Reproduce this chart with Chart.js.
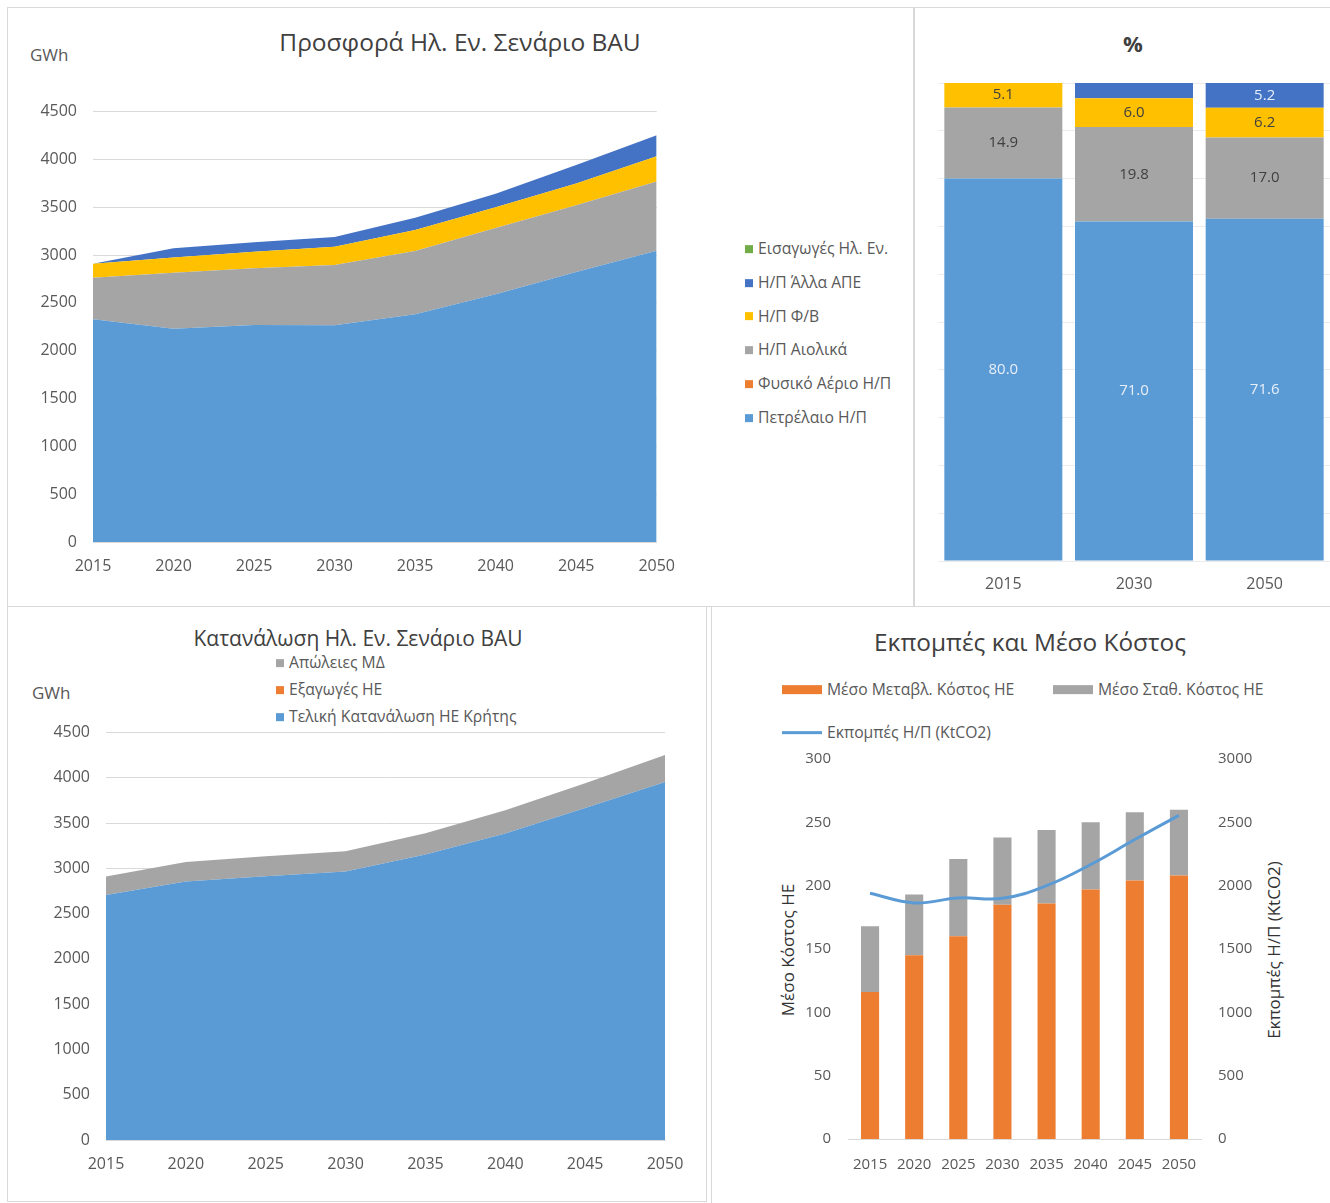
<!DOCTYPE html>
<html lang="el">
<head>
<meta charset="UTF-8" />
<title>Ηλεκτρική Ενέργεια Κρήτης – Σενάριο BAU</title>
<style>
  body {
    margin: 0;
    width: 1330px;
    height: 1203px;
    position: relative;
    overflow: hidden;
    background: #fff;
    font-family: "Open Sans", Arial, sans-serif;
    color: #595959;
  }
  .panel {
    position: absolute;
    border: 1px solid #d9d9d9;
    box-sizing: border-box;
  }
  .chart-box { position: absolute; }
  .txt {
    position: absolute;
    white-space: nowrap;
    line-height: 1;
  }
  .title {
    transform: translate(-50%, -50%);
    color: #404040;
  }
  .legend { position: absolute; font-size: 15.7px; line-height: 1; }
  .legend .item {
    position: absolute;
    white-space: nowrap;
    display: flex;
    align-items: center;
    transform: translateY(-50%);
  }
  .legend .mark { display: inline-block; margin-right: 5px; }
  .rot {
    transform: translate(-50%, -50%) rotate(-90deg);
    color: #333;
    font-size: 17px;
  }
</style>
</head>
<body>

<!-- panel frames -->
<div class="panel" style="left:7px; top:7px; width:907px; height:600px;"></div>
<div class="panel" style="left:914px; top:7px; width:420px; height:600px;"></div>
<div class="panel" style="left:7px; top:606px; width:700px; height:596px;"></div>
<div class="panel" style="left:711px; top:606px; width:623px; height:600px;"></div>

<!-- supply -->
<div class="txt title" style="left:460px; top:42px; font-size:24.5px;">Προσφορά Ηλ. Εν. Σενάριο BAU</div>
<div class="txt" style="left:30px; top:46px; font-size:17px;">GWh</div>
<div class="chart-box" style="left:30px; top:86px; width:660px; height:499px;"><canvas id="supplyChart"></canvas></div>
<div class="legend" id="supplyLegend" style="left:745px; top:249px;"></div>

<!-- shares -->
<div class="txt title" style="left:1133px; top:43px; font-size:22px; font-weight:bold;">%</div>
<div class="chart-box" style="left:930px; top:70px; width:400px; height:530px;"><canvas id="shareChart"></canvas></div>

<!-- consumption -->
<div class="txt title" style="left:358px; top:638px; font-size:21px;">Κατανάλωση Ηλ. Εν. Σενάριο BAU</div>
<div class="txt" style="left:32px; top:684px; font-size:17px;">GWh</div>
<div class="legend" id="consLegend" style="left:276px; top:663px;"></div>
<div class="chart-box" style="left:40px; top:707px; width:660px; height:478px;"><canvas id="consChart"></canvas></div>

<!-- cost and emissions -->
<div class="txt title" style="left:1030px; top:642px; font-size:24.4px;">Εκπομπές και Μέσο Κόστος</div>
<div class="legend" id="costLegend" style="left:782px; top:690px;"></div>
<div class="txt rot" style="left:787px; top:950px;">Μέσο Κόστος ΗΕ</div>
<div class="txt rot" style="left:1273px; top:950px;">Εκπομπές Η/Π (KtCO2)</div>
<div class="chart-box" style="left:790px; top:733px; width:490px; height:452px;"><canvas id="costChart"></canvas></div>

<script src="https://cdn.jsdelivr.net/npm/chart.js"></script>
<script>
  // ---- data ----
  const years = ['2015', '2020', '2025', '2030', '2035', '2040', '2045', '2050'];

  // electricity supply, GWh
  const supplyLabels = ['Πετρέλαιο Η/Π', 'Φυσικό Αέριο Η/Π', 'Η/Π Αιολικά', 'Η/Π Φ/Β', 'Η/Π Άλλα ΑΠΕ', 'Εισαγωγές Ηλ. Εν.'];
  const oilGen     = [2328, 2230, 2270, 2265, 2382, 2590, 2822, 3045];
  const gasGen     = [0, 0, 0, 0, 0, 0, 0, 0];
  const windGen    = [434, 584, 592, 632, 660, 692, 699, 723];
  const pvGen      = [148, 160, 172, 191, 220, 219, 228, 264];
  const otherResGen = [0, 96, 99, 102, 127, 140, 192, 221];
  const importsGen = [0, 0, 0, 0, 0, 0, 0, 0];

  // supply shares, %
  const shareYears = ['2015', '2030', '2050'];
  const oilShare     = [80.0, 71.0, 71.6];
  const gasShare     = [0, 0, 0];
  const windShare    = [14.9, 19.8, 17.0];
  const pvShare      = [5.1, 6.0, 6.2];
  const otherResShare = [0, 3.2, 5.2];
  const importsShare = [0, 0, 0];

  // consumption, GWh
  const consLabels = ['Τελική Κατανάλωση ΗΕ Κρήτης', 'Εξαγωγές ΗΕ', 'Απώλειες ΜΔ'];
  const finalCons  = [2705, 2855, 2913, 2965, 3154, 3386, 3666, 3953];
  const exportCons = [0, 0, 0, 0, 0, 0, 0, 0];
  const gridLosses = [205, 215, 220, 225, 235, 255, 275, 300];

  // average cost and emissions
  const costLabels = ['Μέσο Μεταβλ. Κόστος ΗΕ', 'Μέσο Σταθ. Κόστος ΗΕ', 'Εκπομπές Η/Π (KtCO2)'];
  const varCost   = [116, 145, 160, 185, 186, 197, 204, 208];
  const fixedCost = [52, 48, 61, 53, 58, 53, 54, 52];
  const emissions = [1940, 1864, 1903, 1900, 2000, 2167, 2364, 2555];

  const gwhTicks = { min: 0, max: 4500, step: 500 };

  // ---- colours ----
  const C = {
    oil: '#5b9bd5', gas: '#ed7d31', wind: '#a5a5a5',
    pv: '#ffc000', other: '#4472c4', imports: '#70ad47'
  };
  const tickColor = '#595959';
  const gridColor = '#d9d9d9';
  const FONT = '"Open Sans", Arial, sans-serif';
  const plain = v => String(v);   // no thousands separator

  Chart.defaults.font.family = FONT;
  Chart.defaults.color = tickColor;
  Chart.defaults.animation = false;

  function htmlLegend(id, items, rowGap, markW, markH) {
    const box = document.getElementById(id);
    items.forEach((it, i) => {
      const row = document.createElement('div');
      row.className = 'item';
      row.style.left = (it.x || 0) + 'px';
      row.style.top = (it.row !== undefined ? it.row : i) * rowGap + 'px';
      const m = document.createElement('span');
      m.className = 'mark';
      m.style.width = (it.w || markW) + 'px';
      m.style.height = (it.h || markH) + 'px';
      m.style.background = it.color;
      const t = document.createElement('span');
      t.textContent = it.text;
      row.appendChild(m);
      row.appendChild(t);
      box.appendChild(row);
    });
  }

  function areaSet(label, data, color, i) {
    return {
      label, data,
      backgroundColor: color,
      borderWidth: 0,
      pointRadius: 0,
      fill: i === 0 ? 'origin' : '-1',
      tension: 0
    };
  }

  function gwhScales(yWidth, xHeight, xPad) {
    return {
      x: {
        grid: { display: false, drawTicks: false },
        border: { color: gridColor },
        ticks: { font: { size: 16 }, color: tickColor, padding: xPad, maxRotation: 0, autoSkip: false },
        afterFit: s => { s.height = xHeight; }
      },
      y: {
        stacked: true,
        min: gwhTicks.min, max: gwhTicks.max,
        grid: { color: gridColor, drawTicks: false },
        border: { display: false },
        ticks: { stepSize: gwhTicks.step, font: { size: 16 }, color: tickColor, padding: 16, callback: plain },
        afterFit: s => { s.width = yWidth; }
      }
    };
  }

  // ---- supply (stacked area) ----
  const supplySeries = [oilGen, gasGen, windGen, pvGen, otherResGen, importsGen];
  const supplyColors = [C.oil, C.gas, C.wind, C.pv, C.other, C.imports];
  new Chart(document.getElementById('supplyChart'), {
    type: 'line',
    data: {
      labels: years,
      datasets: supplySeries.map((d, i) => areaSet(supplyLabels[i], d, supplyColors[i], i))
    },
    options: {
      responsive: true,
      maintainAspectRatio: false,
      layout: { padding: { top: 0, right: 32, left: 0, bottom: 0 } },
      plugins: { legend: { display: false }, tooltip: { enabled: false } },
      scales: gwhScales(63, 43, 15)
    }
  });
  htmlLegend('supplyLegend',
    supplyLabels.map((t, i) => ({ text: t, color: supplyColors[i] })).reverse(), 33.8, 8, 8);

  // ---- shares (100% stacked columns with labels) ----
  const segmentLabels = {
    id: 'segmentLabels',
    afterDatasetsDraw(chart) {
      const ctx = chart.ctx;
      ctx.save();
      ctx.font = '15px ' + FONT;
      ctx.textAlign = 'center';
      ctx.textBaseline = 'middle';
      chart.data.datasets.forEach((ds, i) => {
        chart.getDatasetMeta(i).data.forEach((bar, j) => {
          const v = ds.data[j];
          if (v < 4) return;
          ctx.fillStyle = ds.labelColor;
          ctx.fillText(v.toFixed(1), bar.x, (bar.y + bar.base) / 2);
        });
      });
      ctx.restore();
    }
  };
  const shareSeries = [oilShare, gasShare, windShare, pvShare, otherResShare, importsShare];
  const shareLabelColors = ['#e6eef8', '#404040', '#404040', '#404040', '#e6eef8', '#404040'];
  new Chart(document.getElementById('shareChart'), {
    type: 'bar',
    data: {
      labels: shareYears,
      datasets: shareSeries.map((d, i) => ({
        label: supplyLabels[i],
        data: d,
        backgroundColor: supplyColors[i],
        labelColor: shareLabelColors[i],
        borderWidth: 0,
        categoryPercentage: 1,
        barPercentage: 0.903
      }))
    },
    options: {
      responsive: true,
      maintainAspectRatio: false,
      layout: { padding: { top: 13, left: 8, right: 0, bottom: 0 } },
      plugins: { legend: { display: false }, tooltip: { enabled: false } },
      scales: {
        x: {
          stacked: true,
          grid: { display: false },
          border: { display: false },
          ticks: { font: { size: 16 }, color: tickColor, padding: 6 },
          afterFit: s => { s.height = 39; }
        },
        y: {
          stacked: true,
          min: 0, max: 100,
          grid: { color: '#ececec', drawTicks: false },
          border: { display: false },
          ticks: { display: false, stepSize: 10 },
          afterFit: s => { s.width = 0; }
        }
      }
    },
    plugins: [segmentLabels]
  });

  // ---- consumption (stacked area) ----
  const consSeries = [finalCons, exportCons, gridLosses];
  const consColors = [C.oil, C.gas, C.wind];
  new Chart(document.getElementById('consChart'), {
    type: 'line',
    data: {
      labels: years,
      datasets: consSeries.map((d, i) => areaSet(consLabels[i], d, consColors[i], i))
    },
    options: {
      responsive: true,
      maintainAspectRatio: false,
      layout: { padding: { top: 0, right: 35, left: 0, bottom: 0 } },
      plugins: { legend: { display: false }, tooltip: { enabled: false } },
      scales: gwhScales(66, 45, 15)
    }
  });
  htmlLegend('consLegend',
    consLabels.map((t, i) => ({ text: t, color: consColors[i] })).reverse(), 27, 8, 8);

  // ---- cost (stacked columns) and emissions (line, right axis) ----
  new Chart(document.getElementById('costChart'), {
    type: 'bar',
    data: {
      labels: years,
      datasets: [
        {
          type: 'line',
          label: costLabels[2],
          data: emissions,
          yAxisID: 'y2',
          borderColor: C.oil,
          borderWidth: 3,
          pointRadius: 0,
          tension: 0.4,
          fill: false,
          order: 0
        },
        {
          label: costLabels[0],
          data: varCost,
          backgroundColor: C.gas,
          stack: 'cost',
          categoryPercentage: 1,
          barPercentage: 0.41,
          order: 1
        },
        {
          label: costLabels[1],
          data: fixedCost,
          backgroundColor: C.wind,
          stack: 'cost',
          categoryPercentage: 1,
          barPercentage: 0.41,
          order: 1
        }
      ]
    },
    options: {
      responsive: true,
      maintainAspectRatio: false,
      layout: { padding: { top: 0, right: 0, left: 0, bottom: 0 } },
      plugins: { legend: { display: false }, tooltip: { enabled: false } },
      scales: {
        x: {
          stacked: true,
          grid: { display: false },
          border: { color: gridColor },
          ticks: { font: { size: 15 }, color: tickColor, padding: 9, maxRotation: 0, autoSkip: false },
          afterFit: s => { s.height = 46; }
        },
        y: {
          stacked: true,
          min: 0, max: 300,
          grid: { display: false, drawTicks: false },
          border: { display: false },
          ticks: { stepSize: 50, font: { size: 15 }, color: tickColor, padding: 17, callback: plain },
          afterFit: s => { s.width = 58; }
        },
        y2: {
          position: 'right',
          min: 0, max: 3000,
          grid: { display: false, drawTicks: false },
          border: { display: false },
          ticks: { stepSize: 500, font: { size: 15 }, color: tickColor, padding: 17, callback: plain },
          afterFit: s => { s.width = 79; }
        }
      }
    }
  });
  htmlLegend('costLegend', [
    { text: costLabels[0], color: C.gas, x: 0, row: 0 },
    { text: costLabels[1], color: C.wind, x: 271, row: 0 },
    { text: costLabels[2], color: C.oil, x: 0, row: 1, h: 3 }
  ], 43, 40, 9);
</script>
</body>
</html>
